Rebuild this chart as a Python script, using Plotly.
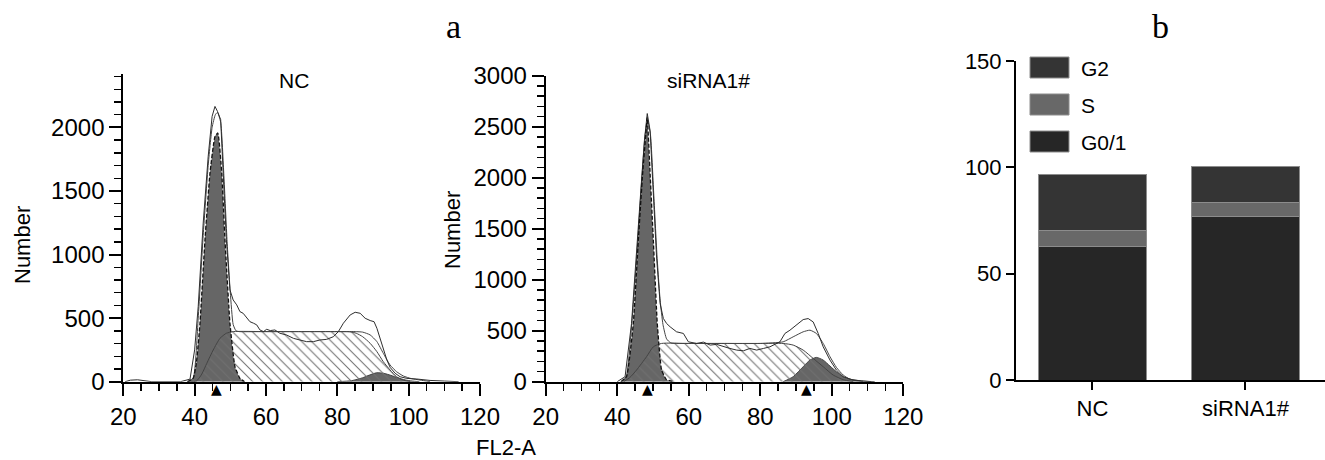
import plotly.graph_objects as go

W, H = 1325, 460

# ---------------- Panel a: NC histogram ----------------
nc_g1_x = [38, 39.6, 40.5, 41.5, 42.9, 44.3, 45.7, 46.5, 47.6, 48.5, 49.9, 51.3, 52.7, 54]
nc_g1_y = [0, 27, 150, 460, 1116, 1641, 1929, 1956, 1641, 1116, 460, 118, 26, 0]

nc_g2_x = [80, 84, 87, 89, 91, 93, 95, 97, 99, 101, 103]
nc_g2_y = [0, 8, 30, 52, 70, 66, 50, 30, 14, 5, 0]

nc_s_x = [38, 40.5, 42, 43.4, 45.2, 47.1, 48.9, 50.8, 60, 70, 80, 83.6, 85.3, 87.1,
          89.2, 91.1, 92.9, 94.8, 96.6, 98.5, 100.5]
nc_s_y = [0, 5, 60, 144, 249, 341, 381, 394, 394, 394, 394, 392, 381, 354,
          302, 236, 157, 92, 39, 13, 0]

nc_fit_x = [38, 39.6, 41.0, 42.4, 43.8, 44.9, 45.8, 46.4, 47.3, 48.2, 49.1, 50.0, 50.8,
            51.6, 52.5, 60, 70, 80, 85, 87.1, 89.2, 91.1, 92.9, 94.8, 96.6, 98.5,
            100.8, 103.2, 106]
nc_fit_y = [0, 30, 500, 1150, 1700, 2000, 2100, 2118, 2040, 1620, 1100, 700, 450,
            400, 394, 394, 394, 394, 394, 390, 368, 315, 223, 131, 79, 45,
            24, 13, 0]

nc_raw_x = [20.5, 22, 24, 26, 28, 36, 38.7, 40.0, 41.0, 42.4, 43.8, 44.9, 45.7, 46.4,
            47.3, 48.0, 48.9, 49.9, 50.8, 51.8, 52.7, 53.6, 54.6, 55.5, 56.5, 57.4,
            58.3, 59.3, 60.2, 61.2, 62.5, 63.9, 65.8, 67.7, 69.5, 71.4, 73.3, 75.1,
            77.0, 78.9, 80.3, 81.7, 83.6, 85.0, 86.4, 87.8, 89.2, 90.3, 91.1, 92.0,
            92.9, 93.9, 94.8, 96.2, 97.6, 99.5, 102.3, 106, 110, 114]
nc_raw_y = [0, 12, 15, 10, 0, 0, 20, 250, 591, 1247, 1772, 2087, 2165, 2126,
            2061, 1641, 1116, 722, 643, 604, 551, 538, 507, 472, 460, 447,
            407, 394, 412, 402, 407, 381, 367, 341, 328, 315, 315, 328,
            333, 354, 394, 460, 525, 546, 538, 499, 481, 472, 420, 341,
            249, 170, 113, 66, 39, 26, 21, 10, 5, 0]

nc_peak_marks = [46.2]

# ---------------- Panel a: siRNA1# histogram ----------------
si_g1_x = [41, 42.6, 44.5, 45.9, 47.1, 48.0, 48.4, 49.2, 50.1, 51.2, 52.4, 53.8, 56]
si_g1_y = [0, 49, 571, 1385, 2036, 2428, 2590, 2036, 1385, 571, 114, 20, 0]

si_s_x = [41.8, 43.5, 45.4, 48.2, 50.1, 52.4, 60, 70, 80, 86.4, 89.2, 92.0, 94.8,
          97.6, 100.4, 103.2, 106]
si_s_y = [0, 40, 114, 245, 342, 375, 375, 375, 375, 375, 359, 310, 228,
          147, 65, 20, 0]

si_g2_x = [86.4, 89.2, 92.0, 93.9, 95.7, 97.6, 99.5, 101.3, 103.2, 105.0, 106.9, 108.8]
si_g2_y = [0, 49, 147, 212, 238, 212, 153, 98, 49, 23, 10, 0]

si_fit_x = [41.5, 42.6, 44.2, 45.6, 46.8, 47.8, 48.5, 49.3, 50.2, 51.1, 52.0, 52.8,
            53.8, 55, 60, 70, 80, 86.4, 89.2, 92.0, 93.9, 95.7, 97.6, 99.5, 101.3,
            103.2, 105.0, 107.9, 111]
si_fit_y = [0, 60, 620, 1300, 1950, 2420, 2560, 2420, 1850, 1250, 800, 560,
            420, 380, 375, 375, 375, 391, 440, 489, 505, 473, 375, 245, 140,
            65, 26, 10, 0]

si_raw_x = [40, 42.2, 44.0, 45.4, 46.6, 47.6, 48.4, 49.2, 50.1, 51.0, 52.0, 52.9,
            53.8, 54.8, 56.6, 58.5, 59.9, 62.2, 64.1, 66.0, 67.8, 69.7, 71.5, 73.4,
            75.3, 77.1, 79.0, 80.9, 82.7, 85.5, 86.9, 88.3, 90.2, 92.0, 93.4, 94.8,
            96.2, 97.6, 99.5, 101.3, 103.2, 106, 109, 112]
si_raw_y = [0, 49, 571, 1222, 1873, 2362, 2629, 2460, 1873, 1222, 766, 620,
            571, 538, 489, 473, 391, 375, 388, 359, 366, 342, 326, 310,
            303, 326, 310, 326, 342, 391, 473, 505, 554, 609, 619, 586,
            473, 342, 212, 114, 49, 16, 5, 0]

si_peak_marks = [48.4, 93.0]

# ---------------- Panel b: stacked bars ----------------
groups = ["NC", "siRNA1#"]
g01_vals = [63, 77]
s_vals = [7.5, 6.5]
g2_vals = [26, 17]
phase_names = ["G2", "S", "G0/1"]
phase_colors = {"G2": "#343434", "S": "#686868", "G0/1": "#262626"}

FONT = "Liberation Sans, Arial, Helvetica, sans-serif"
SERIF = "Liberation Serif, Times New Roman, serif"

fig = go.Figure()


def add_hist(xa, ya, g1x, g1y, sx, sy, g2x, g2y, fx, fy, rx, ry):
    fig.add_trace(go.Scatter(x=g1x, y=g1y, xaxis=xa, yaxis=ya, mode="lines",
                             line=dict(width=0, color="#666666", shape="spline", smoothing=0.4),
                             fill="tozeroy", fillcolor="#666666", showlegend=False,
                             hoverinfo="skip"))
    fig.add_trace(go.Scatter(x=g2x, y=g2y, xaxis=xa, yaxis=ya, mode="lines",
                             line=dict(width=1, color="#444444", shape="spline", smoothing=0.6),
                             fill="tozeroy", fillcolor="#666666", showlegend=False,
                             hoverinfo="skip"))
    fig.add_trace(go.Scatter(x=sx, y=sy, xaxis=xa, yaxis=ya, mode="lines",
                             line=dict(width=1, color="#444444", shape="spline", smoothing=0.6),
                             fill="tozeroy",
                             fillpattern=dict(shape="\\", fgcolor="#707070",
                                              bgcolor="rgba(0,0,0,0)", size=7, solidity=0.15),
                             showlegend=False, hoverinfo="skip"))
    fig.add_trace(go.Scatter(x=fx, y=fy, xaxis=xa, yaxis=ya, mode="lines",
                             line=dict(width=1, color="#444444", shape="spline", smoothing=0.5),
                             showlegend=False, hoverinfo="skip"))
    fig.add_trace(go.Scatter(x=rx, y=ry, xaxis=xa, yaxis=ya, mode="lines",
                             line=dict(width=1, color="#2e2e2e"),
                             showlegend=False, hoverinfo="skip"))
    fig.add_trace(go.Scatter(x=g1x, y=g1y, xaxis=xa, yaxis=ya, mode="lines",
                             line=dict(width=1.3, color="#111111", dash="4px,2px",
                                       shape="spline", smoothing=0.4),
                             showlegend=False, hoverinfo="skip"))


add_hist("x", "y", nc_g1_x, nc_g1_y, nc_s_x, nc_s_y, nc_g2_x, nc_g2_y,
         nc_fit_x, nc_fit_y, nc_raw_x, nc_raw_y)
add_hist("x2", "y2", si_g1_x, si_g1_y, si_s_x, si_s_y, si_g2_x, si_g2_y,
         si_fit_x, si_fit_y, si_raw_x, si_raw_y)

for name, vals in [("G0/1", g01_vals), ("S", s_vals), ("G2", g2_vals)]:
    fig.add_trace(go.Bar(x=groups, y=vals, name=name, xaxis="x3", yaxis="y3",
                         marker=dict(color=phase_colors[name],
                                     line=dict(color="#8c8c8c", width=1)),
                         width=0.7, showlegend=False, hoverinfo="skip"))


def px_x(p):
    return p / W


def px_y(p):
    return 1 - p / H


tickfont = dict(family=FONT, size=24, color="black")
hist_x_common = dict(range=[20, 120], tickvals=[20, 40, 60, 80, 100, 120],
                     ticks="outside", ticklen=12, tickwidth=2, tickcolor="black",
                     showline=True, linecolor="black", linewidth=2, automargin=False,
                     showgrid=False, zeroline=False, tickfont=tickfont,
                     minor=dict(dtick=5, tick0=20, ticks="outside", ticklen=7,
                                tickwidth=1.5, tickcolor="black", showgrid=False))
hist_y_common = dict(dtick=500, tick0=0, ticks="outside", ticklen=12, tickwidth=2,
                     tickcolor="black", showline=True, linecolor="black", linewidth=2,
                     showgrid=False, zeroline=False, tickfont=tickfont, automargin=False,
                     minor=dict(dtick=100, tick0=0, ticks="outside", ticklen=7,
                                tickwidth=1.5, tickcolor="black", showgrid=False))

ybot = px_y(381.7)

fig.update_layout(
    template="none",
    width=W, height=H,
    margin=dict(l=0, r=0, t=0, b=0, pad=0, autoexpand=False),
    paper_bgcolor="white", plot_bgcolor="white",
    showlegend=False,
    barmode="stack",
    xaxis=dict(domain=[px_x(123.3), px_x(480)], anchor="y", **hist_x_common),
    yaxis=dict(domain=[ybot, px_y(74)], range=[0, 2420], anchor="x", **hist_y_common),
    xaxis2=dict(domain=[px_x(545.7), px_x(903.3)], anchor="y2", **hist_x_common),
    yaxis2=dict(domain=[ybot, px_y(75.7)], range=[0, 3000], anchor="x2", **hist_y_common),
    xaxis3=dict(domain=[px_x(1016), 1.0], anchor="y3", range=[-0.5, 1.52],
                ticks="outside", ticklen=8, tickwidth=2, tickcolor="black", automargin=False,
                showline=True, linecolor="black", linewidth=2, showgrid=False,
                zeroline=False, tickfont=dict(family=FONT, size=22, color="black")),
    yaxis3=dict(domain=[px_y(380), px_y(61)], anchor="x3", range=[0, 150],
                tickvals=[0, 50, 100, 150], ticks="outside", ticklen=8, tickwidth=2,
                tickcolor="black", showline=True, linecolor="black", linewidth=2,
                showgrid=False, zeroline=False, automargin=False,
                tickfont=dict(family=FONT, size=22, color="black")),
)

annotations = []


def ann(xp, yp, text, size, family=FONT, angle=0, xanchor="center"):
    annotations.append(dict(x=px_x(xp), y=px_y(yp), xref="paper", yref="paper", text=text,
                            showarrow=False, textangle=angle, xanchor=xanchor,
                            yanchor="middle",
                            font=dict(family=family, size=size, color="black")))


ann(453, 26, "a", 34, SERIF)
ann(1160, 26, "b", 34, SERIF)
ann(294, 80, "NC", 21)
ann(708, 80, "siRNA1#", 21)
ann(22, 245, "Number", 22, angle=-90)
ann(452, 230, "Number", 22, angle=-90)
ann(506, 447, "FL2-A", 22)

for xv in nc_peak_marks:
    annotations.append(dict(x=xv, y=0, xref="x", yref="y", text="▲", showarrow=False,
                            yshift=-7, yanchor="middle",
                            font=dict(family="DejaVu Sans", size=14, color="black")))
for xv in si_peak_marks:
    annotations.append(dict(x=xv, y=0, xref="x2", yref="y2", text="▲", showarrow=False,
                            yshift=-7, yanchor="middle",
                            font=dict(family="DejaVu Sans", size=14, color="black")))

shapes = []
leg_tops = [57, 94, 131]
for name, top in zip(phase_names, leg_tops):
    shapes.append(dict(type="rect", xref="paper", yref="paper",
                       x0=px_x(1030), x1=px_x(1069), y0=px_y(top + 21), y1=px_y(top),
                       fillcolor=phase_colors[name], line=dict(color="#8c8c8c", width=1)))
    ann(1079, top + 11, name, 21, xanchor="left")

fig.update_layout(annotations=annotations, shapes=shapes)

fig.write_html("out.html",
               config={"displayModeBar": False, "staticPlot": True},
               post_script="document.body.style.margin='0px';document.body.style.overflow='hidden';")
